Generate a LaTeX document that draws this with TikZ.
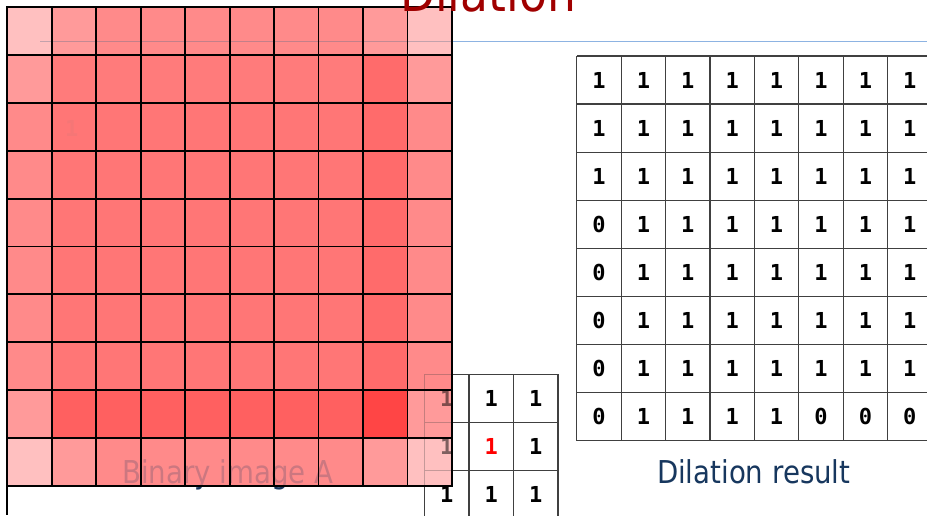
\documentclass[tikz,border=0pt]{standalone}
\usepackage{fontspec}
\newfontfamily\tah{DejaVu Sans}[FakeStretch=0.877]
\newfontfamily\monob{DejaVu Sans Mono}
\definecolor{cA}{HTML}{FFC0C0}
\definecolor{cB}{HTML}{FF9A9A}
\definecolor{cC}{HTML}{FF8A8A}
\definecolor{cD}{HTML}{FF7B7B}
\definecolor{cE}{HTML}{FF7676}
\definecolor{cF}{HTML}{FF6B6B}
\definecolor{cG}{HTML}{FF6060}
\definecolor{cH}{HTML}{FF4545}
\definecolor{titlered}{HTML}{A00000}
\definecolor{labelblue}{HTML}{17375E}
\definecolor{rulecol}{HTML}{8DB3E2}
\definecolor{gridgray}{HTML}{404040}
\begin{document}
\begin{tikzpicture}[x=1pt,y=-1pt,
  digit/.style={font=\monob\bfseries\fontsize{22}{22}\selectfont, inner sep=0pt},
  caption/.style={font=\tah\fontsize{31.5}{32}\selectfont, text=labelblue, inner sep=0pt, anchor=base},
  tline/.style={draw=gridgray, line width=1.2pt},
  redline/.style={draw=black, line width=1.8pt, line cap=rect}]
\useasboundingbox (0,0) rectangle (927,515);
\clip (0,0) rectangle (927,515);
% title underline
\coordinate (ruleL) at (40,41.3);
\coordinate (ruleR) at (927,41.3);
\draw[rulecol, line width=1pt] (ruleL) -- (ruleR);
% left border of the binary image
\coordinate (lbTop) at (7.3,7.3);
\coordinate (lbBot) at (7.3,515);
\draw[black, line width=2pt] (lbTop) -- (lbBot);
% label under the binary image (mostly hidden)
\node[caption] (binlabel) at (228,483.3) {Binary image A};
% structuring element
\foreach \i in {0,1,2,3}{
  \pgfmathsetmacro\xx{424.5+44.5*\i}
  \coordinate (seV\i a) at (\xx,374.3);
  \coordinate (seV\i b) at (\xx,518.6);
  \draw[tline] (seV\i a) -- (seV\i b);
  \pgfmathsetmacro\yy{374.3+48.1*\i}
  \coordinate (seH\i a) at (424.5,\yy);
  \coordinate (seH\i b) at (558,\yy);
  \draw[tline] (seH\i a) -- (seH\i b);
}
\foreach \r in {0,1,2}{
  \foreach \c in {0,1,2}{
    \pgfmathsetmacro\xx{446.75+44.5*\c}
    \pgfmathsetmacro\yy{398.35+48.1*\r}
    \ifnum\r=1 \ifnum\c=1
      \node[digit, text=red] (se\r\c) at (\xx,\yy) {1};
    \else
      \node[digit] (se\r\c) at (\xx,\yy) {1};
    \fi\else
      \node[digit] (se\r\c) at (\xx,\yy) {1};
    \fi
  }
}
% red overlay cells
\foreach \r/\lst in {
  0/{cA,cB,cC,cC,cC,cC,cC,cC,cB,cA},
  1/{cB,cD,cD,cD,cD,cD,cD,cD,cF,cB},
  2/{cC,cE,cE,cE,cE,cE,cE,cE,cF,cC},
  3/{cC,cE,cE,cE,cE,cE,cE,cE,cF,cC},
  4/{cC,cE,cE,cE,cE,cE,cE,cE,cF,cC},
  5/{cC,cE,cE,cE,cE,cE,cE,cE,cF,cC},
  6/{cC,cE,cE,cE,cE,cE,cE,cE,cF,cC},
  7/{cC,cE,cE,cE,cE,cE,cE,cE,cF,cC},
  8/{cB,cG,cG,cG,cG,cG,cG,cG,cH,cB},
  9/{cA,cB,cC,cC,cC,cC,cC,cC,cB,cA}}{
  \foreach \col [count=\c from 0] in \lst{
    \pgfmathsetmacro\xx{7.3+44.47*\c}
    \pgfmathsetmacro\yy{7.3+47.84*\r}
    \fill[\col] (\xx,\yy) rectangle ++(44.47,47.84);
  }
}
% see-through details under the red overlay
\begin{scope}
  \clip (7.3,7.3) rectangle (452,485.7);
  \draw[rulecol!60!black, opacity=0.35, line width=1pt] (ruleL) -- (ruleR);
  \foreach \i in {0,1,2}{
    \draw[tline, opacity=0.3] (seV\i a) -- (seV\i b);
    \draw[tline, opacity=0.3] (seH\i a) -- (seH\i b);
  }
  \node[caption, text opacity=0.22] (binlabelB) at (228,483.3) {Binary image A};
  \foreach \r in {0,1,2}{
    \node[digit, text opacity=0.5] (seB\r) at (se\r0) {1};
  }
  \node[digit, text=gray, text opacity=0.08] (faintone) at (71.7,128.3) {1};
\end{scope}
% red grid lines
\foreach \i in {0,...,10}{
  \pgfmathsetmacro\xx{7.3+44.47*\i}
  \draw[redline] (\xx,7.3) -- (\xx,485.7);
  \pgfmathsetmacro\yy{7.3+47.84*\i}
  \draw[redline] (7.3,\yy) -- (452,\yy);
}
% dilation result table
\foreach \i in {0,...,8}{
  \pgfmathsetmacro\xx{576.8+44.4*\i}
  \draw[tline] (\xx,56) -- (\xx,440.6);
  \pgfmathsetmacro\yy{56+48.08*\i}
  \draw[tline] (576.8,\yy) -- (932,\yy);
}
\foreach \r/\lst in {
  0/{1,1,1,1,1,1,1,1},
  1/{1,1,1,1,1,1,1,1},
  2/{1,1,1,1,1,1,1,1},
  3/{0,1,1,1,1,1,1,1},
  4/{0,1,1,1,1,1,1,1},
  5/{0,1,1,1,1,1,1,1},
  6/{0,1,1,1,1,1,1,1},
  7/{0,1,1,1,1,0,0,0}}{
  \foreach \v [count=\c from 0] in \lst{
    \pgfmathsetmacro\xx{599+44.4*\c}
    \pgfmathsetmacro\yy{80+48.08*\r}
    \node[digit] (res\r\c) at (\xx,\yy) {\v};
  }
}
\node[caption] (reslabel) at (753.7,483.3) {Dilation result};
% title
\node[font=\tah\fontsize{52}{52}\selectfont, text=titlered, anchor=base west, inner sep=0pt] (title) at (400,11) {Dilation};
\end{tikzpicture}
\end{document}
